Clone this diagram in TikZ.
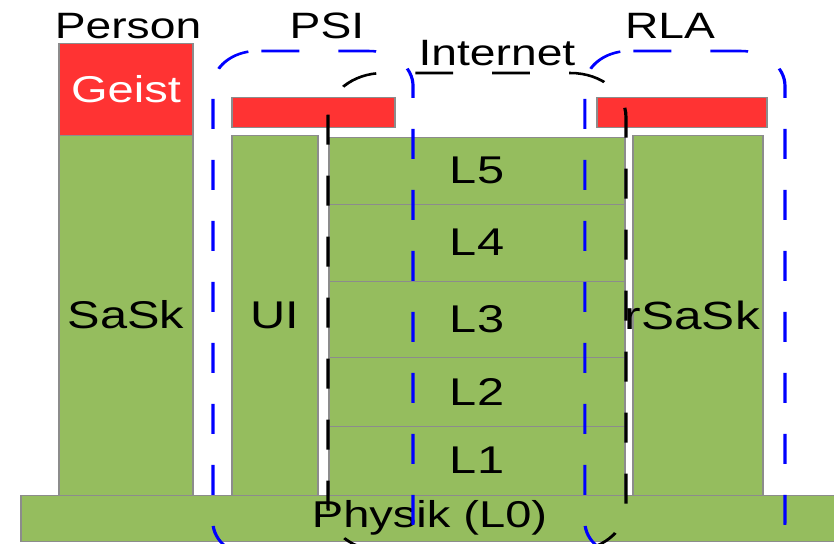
\documentclass[tikz,border=0pt]{standalone}
\usepackage{fontspec}
\setmainfont{Liberation Sans}
\definecolor{gr}{RGB}{149,189,94}
\definecolor{rd}{RGB}{255,51,51}
\definecolor{bd}{RGB}{140,140,140}
\definecolor{bl}{RGB}{0,0,255}
\begin{document}
\begin{tikzpicture}[x=0.75pt,y=-0.75pt,
  box/.style={draw=bd, line width=0.7pt, inner sep=0pt, outer sep=0pt},
  gbox/.style={box, fill=gr, font=\fontsize{29}{29}\selectfont},
  rbox/.style={box, fill=rd},
  toplbl/.style={anchor=base, inner sep=0pt, font=\fontsize{27.5}{27.5}\selectfont},
  biglbl/.style={inner sep=0pt, font=\fontsize{29.5}{29.5}\selectfont},
  grp/.style={line width=1.9pt, dash pattern=on 22.5pt off 23.25pt},
  bgrp/.style={grp, draw=bl, rounded corners=26.25pt},
  kgrp/.style={grp, draw=black, rounded corners=33pt}
]
\useasboundingbox (0,0) rectangle (834,543);
\begin{scope}[transform canvas={xscale=1.26}]
  % boxes
  \node[rbox, minimum width=79.76pt, minimum height=69pt, text=white,
        font=\fontsize{28}{28}\selectfont] (geist) at (100.0,89) {Geist};
  \node[gbox, minimum width=79.76pt, minimum height=270pt] (sask) at (100.0,315) {SaSk};
  \node[gbox, minimum width=51.2pt, minimum height=270pt] (ui) at (218.3,315) {UI};
  \node[rbox, minimum width=97.0pt, minimum height=22.5pt] (psibar) at (248.8,112) {};
  \node[gbox, minimum width=176.2pt, minimum height=50.25pt] (l5) at (378.6,170.5) {L5};
  \node[gbox, minimum width=176.2pt, minimum height=57.75pt] (l4) at (378.6,242.5) {L4};
  \node[gbox, minimum width=176.2pt, minimum height=57pt] (l3) at (378.6,319) {L3};
  \node[gbox, minimum width=176.2pt, minimum height=51.75pt] (l2) at (378.6,391.5) {L2};
  \node[gbox, minimum width=176.2pt, minimum height=51.75pt] (l1) at (378.6,460.5) {L1};
  \node[gbox, minimum width=77.4pt, minimum height=270pt] (rsask) at (554.0,315) {};
  \node[biglbl] (rsasktxt) at ([xshift=-3.4pt]rsask.center) {rSaSk};
  \node[rbox, minimum width=101.2pt, minimum height=22.5pt] (rlabar) at (541.3,112) {};
  \node[gbox, minimum width=486.3pt, minimum height=34.5pt,
        font=\fontsize{28}{28}\selectfont] (physik) at (340.9,518) {Physik (L0)};
  % top labels
  \node[toplbl] (person) at (101.6,38) {Person};
  \node[toplbl] (psi) at (259.5,38) {PSI};
  \node[toplbl] (internet) at (394.4,65) {Internet};
  \node[toplbl] (rla) at (531.7,38) {RLA};
  % group outlines
  \draw[kgrp, dash phase=32.4pt] (378.6,551) -| (260.3,73) -| (496.8,551) -- (378.6,551);
  \draw[bgrp, dash phase=42.45pt] (248.4,557) -| (169,51) -- (204,51);
  \draw[bgrp, dash phase=43.1pt] (204,51) -| (327.8,557) -- (248.4,557);
  \draw[bgrp, dash phase=42.45pt] (543.6,557) -| (464.2,51) -- (499.2,51);
  \draw[bgrp, dash phase=43.1pt] (499.2,51) -| (623,557) -- (543.6,557);
\end{scope}
\end{tikzpicture}
\end{document}
